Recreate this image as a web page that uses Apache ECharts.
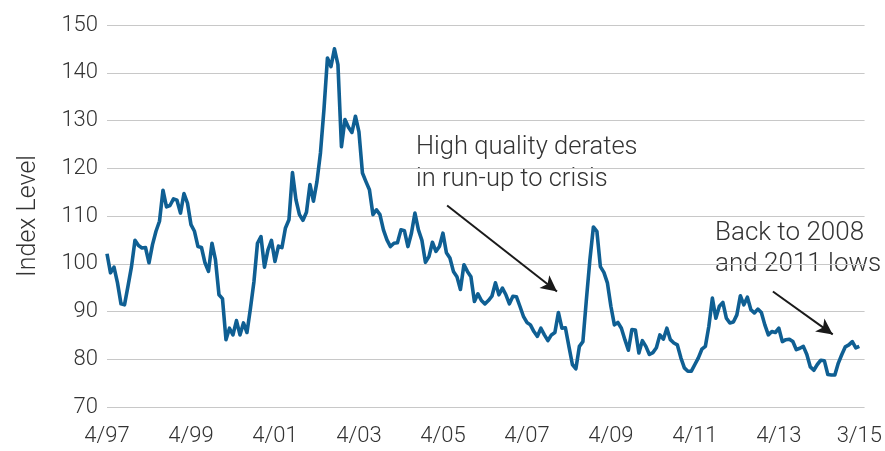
<!DOCTYPE html>
<html>
<head>
<meta charset="utf-8">
<script src="https://cdn.jsdelivr.net/npm/echarts@6/dist/echarts.min.js"></script>
<style>
  html, body { margin: 0; padding: 0; background: #fff; }
  #chart { width: 885px; height: 451px; }
</style>
</head>
<body>
<div id="chart"></div>
<script>
// monthly index level, 4/97 .. 3/15
const indexLevel = [
  102.1, 98.1, 99.3, 96.0, 91.6, 91.4, 95.3, 99.4, 104.9, 103.8, 103.3, 103.4,
  100.2, 104.0, 106.8, 108.9, 115.4, 111.9, 112.2, 113.6, 113.3, 110.6, 114.7, 112.7,
  108.2, 106.8, 103.6, 103.4, 100.2, 98.4, 104.3, 100.8, 93.5, 92.7, 84.1, 86.5,
  85.1, 88.1, 85.1, 87.6, 85.6, 90.7, 96.3, 104.3, 105.7, 99.3, 102.9, 104.9,
  100.5, 103.7, 103.4, 107.5, 109.2, 119.1, 113.4, 110.3, 109.1, 110.8, 116.6, 113.1,
  117.2, 123.2, 132.3, 143.1, 141.3, 145.0, 141.7, 124.5, 130.2, 128.6, 127.5, 130.9,
  127.6, 119.0, 117.2, 115.5, 110.3, 111.3, 110.3, 107.1, 105.0, 103.6, 104.3, 104.4,
  107.1, 106.9, 103.6, 106.4, 110.6, 107.1, 104.9, 100.3, 101.5, 104.5, 102.6, 103.6,
  106.4, 102.3, 101.2, 98.4, 97.3, 94.6, 99.8, 98.4, 97.3, 92.1, 93.7, 92.3,
  91.6, 92.3, 93.2, 96.0, 93.5, 94.9, 93.5, 91.6, 93.2, 93.1, 91.1, 89.0,
  87.7, 87.2, 85.8, 84.8, 86.5, 85.1, 83.9, 85.1, 85.6, 89.8, 86.5, 86.6,
  82.7, 78.9, 78.0, 82.7, 83.7, 92.5, 100.8, 107.7, 106.8, 99.4, 98.2, 96.0,
  91.1, 87.2, 87.7, 86.5, 84.1, 81.9, 86.2, 86.1, 81.3, 83.9, 82.7, 81.0,
  81.4, 82.4, 85.1, 84.2, 86.5, 84.1, 83.4, 83.0, 80.3, 78.2, 77.5, 77.5,
  78.9, 80.3, 82.1, 82.7, 86.9, 92.8, 88.6, 91.1, 91.9, 88.6, 87.6, 87.8,
  89.3, 93.3, 91.4, 93.0, 90.4, 89.7, 90.5, 89.8, 87.2, 85.1, 85.8, 85.6,
  86.5, 83.7, 84.1, 84.2, 83.7, 82.0, 82.3, 82.7, 81.0, 78.4, 77.7, 78.9,
  79.8, 79.7, 76.8, 76.7, 76.7, 79.2, 81.0, 82.6, 83.0, 83.7, 82.4, 82.7
];

// x tick positions (months since 4/97) and their labels
const tickMonths = [0, 24, 48, 72, 96, 120, 144, 168, 192, 215];
const tickLabels = ['4/97', '4/99', '4/01', '4/03', '4/05', '4/07', '4/09', '4/11', '4/13', '3/15'];

const notes = [
  'High quality derates\nin run-up to crisis',
  'Back to 2008\nand 2011 lows'
];

const FONT = 'Roboto';
const TEXT = '#333333';

let chart = echarts.init(document.getElementById('chart'), null, { renderer: 'canvas' });

chart.setOption({
  animation: false,
  grid: { left: 107, right: 18, top: 25, bottom: 44, containLabel: false },
  xAxis: {
    type: 'value',
    min: 0,
    max: 216.5,
    axisLine: { show: false },
    axisTick: { show: false },
    splitLine: { show: false },
    axisLabel: {
      customValues: tickMonths,
      formatter: v => tickLabels[tickMonths.indexOf(v)],
      margin: 18,
      fontFamily: FONT,
      fontWeight: 300,
      fontSize: 22,
      color: TEXT
    }
  },
  yAxis: {
    type: 'value',
    min: 70,
    max: 150,
    interval: 10,
    name: 'Index Level',
    nameLocation: 'middle',
    nameGap: 66,
    nameTextStyle: { fontFamily: FONT, fontWeight: 300, fontSize: 25, color: TEXT },
    axisLine: { show: false },
    axisTick: { show: false },
    axisLabel: { margin: 9, fontFamily: FONT, fontWeight: 300, fontSize: 22, color: TEXT },
    splitLine: { lineStyle: { color: '#c8c8c8', width: 1.2 } }
  },
  series: [{
    type: 'line',
    data: indexLevel.map((v, i) => [i, v]),
    showSymbol: false,
    lineStyle: { color: '#0f5f93', width: 3.6, join: 'round' },
    markLine: {
      silent: true,
      symbol: ['none', 'arrow'],
      symbolSize: [12, 16],
      label: { show: false },
      lineStyle: { color: '#1a1a1a', width: 2, type: 'solid' },
      data: [
        [{ coord: [97.2, 112.2] }, { coord: [128.6, 94.2] }],
        [{ coord: [190.3, 94.2] }, { coord: [207.4, 85.2] }]
      ]
    }
  }],
  graphic: [
    {
      type: 'text', left: 416, top: 132,
      style: { text: notes[0], font: '300 25.5px ' + FONT, fill: TEXT, lineHeight: 32 }
    },
    {
      type: 'text', left: 715, top: 218,
      style: { text: notes[1], font: '300 26px ' + FONT, fill: TEXT, lineHeight: 31 }
    }
  ]
});
</script>
</body>
</html>
